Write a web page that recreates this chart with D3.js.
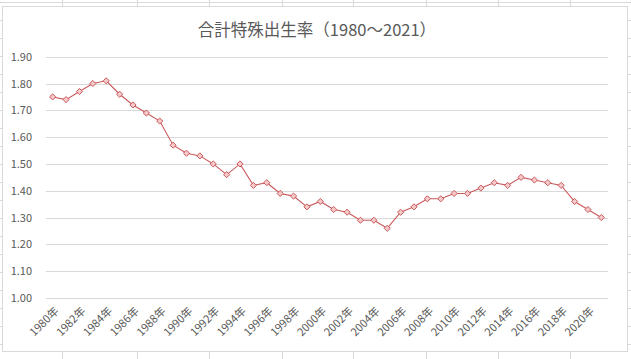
<!DOCTYPE html>
<html><head><meta charset="utf-8">
<script src="https://cdn.jsdelivr.net/npm/d3@7"></script>
<style>body{margin:0;background:#fff;}svg{display:block;}</style>
</head><body>
<script>
const title = "合計特殊出生率（1980～2021）";
const years = d3.range(1980, 2022);
const categories = years.map(y => y + "年");
const values = [1.75,1.74,1.77,1.80,1.81,1.76,1.72,1.69,1.66,1.57,
  1.54,1.53,1.50,1.46,1.50,1.42,1.43,1.39,1.38,1.34,
  1.36,1.33,1.32,1.29,1.29,1.26,1.32,1.34,1.37,1.37,
  1.39,1.39,1.41,1.43,1.42,1.45,1.44,1.43,1.42,1.36,
  1.33,1.30];
const yTicks = [1.00,1.10,1.20,1.30,1.40,1.50,1.60,1.70,1.80,1.90];

const W = 631, H = 359;
const svg = d3.select("body").append("svg").attr("width", W).attr("height", H);

// spreadsheet background grid
const sheet = svg.append("g").attr("stroke", "#d9d9d9").attr("stroke-width", 1);
[62,137,209,282,353,426,498,570].forEach(x =>
  sheet.append("line").attr("x1", x + 0.5).attr("x2", x + 0.5).attr("y1", 0).attr("y2", H));
d3.range(0, 21).forEach(k =>
  sheet.append("line").attr("x1", 0).attr("x2", W).attr("y1", 2.5 + 18 * k).attr("y2", 2.5 + 18 * k));

// chart box
svg.append("rect").attr("x", 2.5).attr("y", 6.5).attr("width", 625).attr("height", 345)
  .attr("fill", "#fff").attr("stroke", "#d9d9d9");

const font = "'Noto Sans CJK JP', 'Noto Sans', sans-serif";
svg.append("text").attr("x", 317).attr("y", 36).attr("text-anchor", "middle")
  .attr("font-family", font).attr("font-size", 16.5).attr("fill", "#595959").text(title);

const x = d3.scaleBand().domain(categories).range([46, 608]);
const y = d3.scaleLinear().domain([1.0, 1.9]).range([298, 56.7]);

// gridlines
svg.append("g").selectAll("line").data(yTicks).join("line")
  .attr("x1", 46).attr("x2", 608)
  .attr("y1", d => Math.round(y(d)) + 0.5).attr("y2", d => Math.round(y(d)) + 0.5)
  .attr("stroke", "#d9d9d9");

// y labels
const yAxis = d3.axisLeft(y).tickValues(yTicks).tickFormat(d3.format(".2f")).tickSize(0).tickPadding(0);
const ya = svg.append("g").attr("transform", "translate(32,0)").call(yAxis);
ya.select(".domain").remove();
ya.selectAll("text").attr("font-family", font).attr("font-size", 11).attr("fill", "#595959");

// x labels
const xAxis = d3.axisBottom(x).tickValues(categories.filter((d, i) => i % 2 === 0)).tickSize(0).tickPadding(0);
const xa = svg.append("g").attr("transform", "translate(0,298)").call(xAxis);
xa.select(".domain").remove();
xa.selectAll("text")
  .attr("font-family", font).attr("font-size", 11).attr("fill", "#595959")
  .attr("text-anchor", "end").attr("dy", "0.35em")
  .attr("transform", "translate(4,11) rotate(-45)");

// line
const cx = d => x(d) + x.bandwidth() / 2;
const pts = categories.map((c, i) => [cx(c), y(values[i])]);
svg.append("path").attr("d", d3.line()(pts)).attr("fill", "none")
  .attr("stroke", "#c9585b").attr("stroke-width", 1.1);

// markers
svg.append("g").selectAll("path").data(pts).join("path")
  .attr("d", d3.symbol().type(d3.symbolDiamond2).size(24))
  .attr("transform", d => `translate(${d[0]},${d[1]})`)
  .attr("fill", "#f6caca").attr("stroke", "#c9585b").attr("stroke-width", 1);
</script>
</body></html>
